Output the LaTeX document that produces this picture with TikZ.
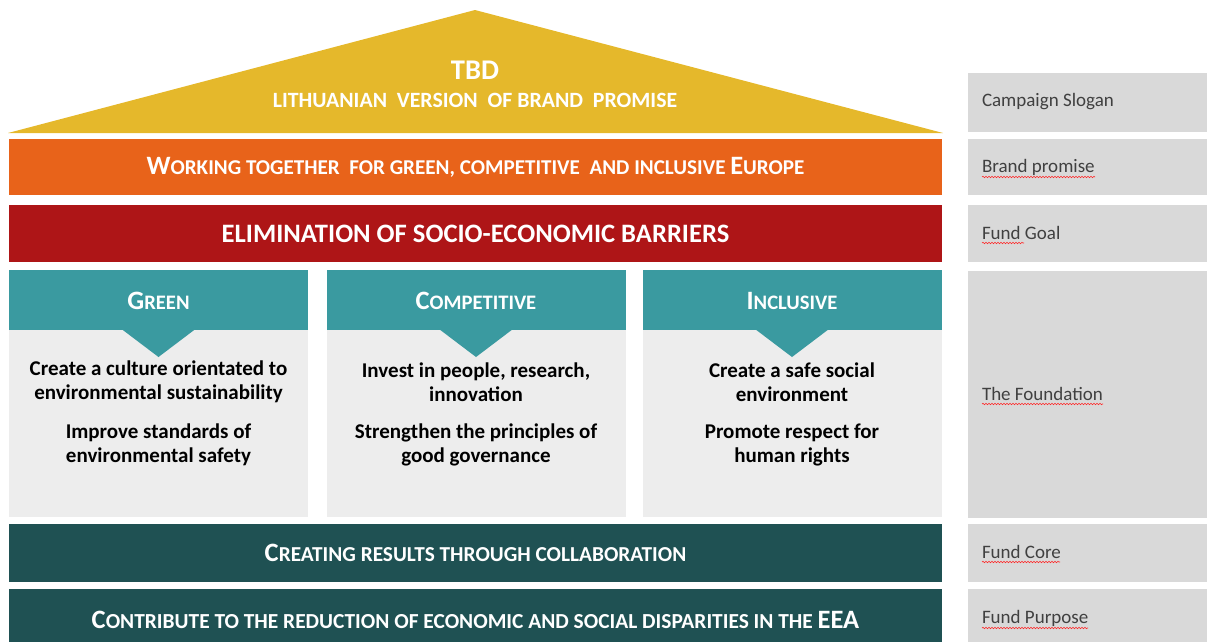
\documentclass[tikz,border=0pt]{standalone}
\usepackage{fontspec}
\setmainfont{Carlito}
\usetikzlibrary{decorations.pathmorphing}
\definecolor{roofc}{HTML}{E5B82B}
\definecolor{orangec}{HTML}{E8631A}
\definecolor{redc}{HTML}{AE1517}
\definecolor{tealc}{HTML}{3A9AA0}
\definecolor{bodyc}{HTML}{EDEDED}
\definecolor{darkc}{HTML}{1F5153}
\definecolor{lblc}{HTML}{D9D9D9}
\definecolor{lbltxt}{HTML}{404040}
\def\blsize{26.5pt}
\newcommand{\BL}[1]{{\fontsize{\blsize}{\blsize}\selectfont #1}}
\begin{document}
\begin{tikzpicture}[x=1pt,y=-1pt, every node/.style={inner sep=0pt, outer sep=0pt}]
\useasboundingbox (0,0) rectangle (1207,641);
\tikzset{
 bar/.style={minimum width=933pt, text=white, font=\bfseries},
 pillarhead/.style={fill=tealc, minimum width=299pt, minimum height=60pt, anchor=north},
 pillarbody/.style={fill=bodyc, minimum width=299pt, minimum height=247pt, anchor=north},
 headtext/.style={text=white, font=\fontsize{20.6pt}{21pt}\selectfont\bfseries},
 bodytext/.style={align=center, text=black, font=\fontsize{21pt}{24pt}\selectfont\bfseries},
 lblbox/.style={fill=lblc, minimum width=242pt, anchor=north west},
 lbltext/.style={anchor=west, text=lbltxt, font=\fontsize{19pt}{22pt}\selectfont},
 squig/.style={draw=red!85!white, line width=0.6pt, decorate, decoration={snake, amplitude=0.7pt, segment length=3pt}}
}
% roof
\fill[roofc] (8,133) -- (475,10) -- (943,133) -- cycle;
\node[text=white, font=\fontsize{28.5pt}{28pt}\selectfont\bfseries] (tbd) at (475,70) {TBD};
\node[text=white, font=\fontsize{21.8pt}{22pt}\selectfont\bfseries] (lith) at (475,100) {LITHUANIAN\ \ VERSION\ \ OF BRAND\ \ PROMISE};
% bars
\node[bar, fill=orangec, minimum height=56pt] (promise) at (475.5,167)
 {\fontsize{21.1pt}{22pt}\selectfont\BL{W}ORKING TOGETHER\ \ FOR GREEN, COMPETITIVE\ \ AND INCLUSIVE \BL{E}UROPE};
\node[bar, fill=redc, minimum height=57pt] (goal) at (475.5,233.5)
 {\fontsize{26.6pt}{28pt}\selectfont ELIMINATION OF SOCIO-ECONOMIC BARRIERS};
\node[bar, fill=darkc, minimum height=58pt] (core) at (475.5,553)
 {\fontsize{21.3pt}{22pt}\selectfont\BL{C}REATING RESULTS THROUGH COLLABORATION};
\node[bar, fill=darkc, minimum height=62pt] (purpose) at (475.5,620)
 {\fontsize{21.4pt}{22pt}\selectfont\BL{C}ONTRIBUTE TO THE REDUCTION OF ECONOMIC AND SOCIAL DISPARITIES IN THE \BL{EEA}};
% pillars
\foreach \n/\cx in {g/158.5, c/476, i/792}{
 \node[pillarbody] (\n body) at (\cx,270) {};
 \node[pillarhead] (\n head) at (\cx,270) {};
 \fill[tealc] ([xshift=-37pt,yshift=1pt]\n head.south) -- ([yshift=-27pt]\n head.south) -- ([xshift=37pt,yshift=1pt]\n head.south) -- cycle;
}
\node[headtext] (gtitle) at (158.5,301) {\BL{G}REEN};
\node[headtext] (ctitle) at (476,301) {\BL{C}OMPETITIVE};
\node[headtext] (ititle) at (792,301) {\BL{I}NCLUSIVE};
\node[bodytext] (g1) at (158.5,382) {Create a culture orientated to\\environmental sustainability};
\node[bodytext] (g2) at (158.5,445) {Improve standards of\\environmental safety};
\node[bodytext] (c1) at (476,382) {Invest in people, research,\\innovation};
\node[bodytext] (c2) at (476,445) {Strengthen the principles of\\good governance};
\node[bodytext] (i1) at (792,382) {Create a safe social\\environment};
\node[bodytext] (i2) at (792,445) {Promote respect for\\human rights};
% right labels
\node[lblbox, minimum height=59pt] (b1) at (968,73) {};
\node[lblbox, minimum height=56pt] (b2) at (968,139) {};
\node[lblbox, minimum height=57pt] (b3) at (968,205) {};
\node[lblbox, minimum height=247pt] (b4) at (968,271) {};
\node[lblbox, minimum height=58pt] (b5) at (968,524) {};
\node[lblbox, minimum height=56pt] (b6) at (968,589) {};
\node[lbltext] (t1) at (982,102) {Campaign Slogan};
\node[lbltext] (t2) at (982,167) {Brand promise};
\node[lbltext] (t3) at (982,233) {Fund Goal};
\node[lbltext] (t4) at (982,394) {The Foundation};
\node[lbltext] (t5) at (982,552) {Fund Core};
\node[lbltext] (t6) at (982,618) {Fund Purpose};
% spell-check squiggles
\draw[squig] (982,177) -- (1095,177);
\draw[squig] (982,243) -- (1024,243);
\draw[squig] (982,404) -- (1103,404);
\draw[squig] (982,562) -- (1060,562);
\draw[squig] (982,628) -- (1088,628);
\end{tikzpicture}
\end{document}
